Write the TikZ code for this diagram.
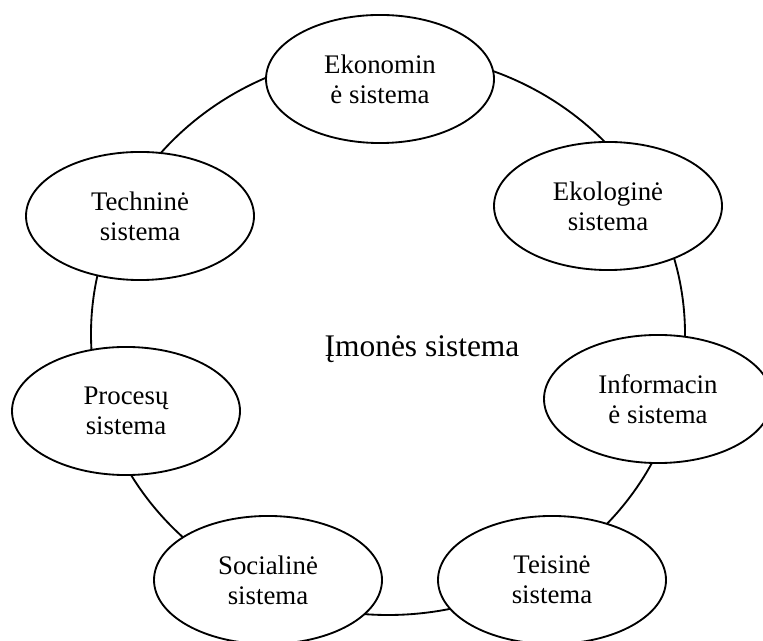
\documentclass[tikz,border=0pt]{standalone}
\usepackage{fontspec}
\setmainfont{Liberation Serif}
\usetikzlibrary{shapes.geometric}
\begin{document}
\begin{tikzpicture}[x=0.4325pt,y=-0.4325pt,
  sysnode/.style={ellipse, draw, line width=0.8pt, fill=white,
    minimum width=98.6pt, minimum height=55.4pt, inner sep=0pt,
    align=center, font=\fontsize{11.6}{13}\selectfont},
  ring/.style={line width=0.8pt},
  maintext/.style={font=\fontsize{13.6}{16}\selectfont}]
\useasboundingbox (0,0) rectangle (763,641);
\clip (0,0) rectangle (763,641);
\coordinate (c) at (388,334);
\draw[ring] (c) ellipse [x radius=297, y radius=281];
\node[sysnode] (ekon) at (380,79) {Ekonomin\\ė sistema};
\node[sysnode] (ekol) at (608,206) {Ekologinė\\sistema};
\node[sysnode] (info) at (658,399) {Informacin\\ė sistema};
\node[sysnode] (teis) at (552,580) {Teisinė\\sistema};
\node[sysnode] (soc) at (268,580) {Socialinė\\sistema};
\node[sysnode] (proc) at (126,411) {Procesų\\sistema};
\node[sysnode] (tech) at (140,216) {Techninė\\sistema};
\node[maintext] (imones) at (422,349) {Įmonės sistema};
\end{tikzpicture}
\end{document}
